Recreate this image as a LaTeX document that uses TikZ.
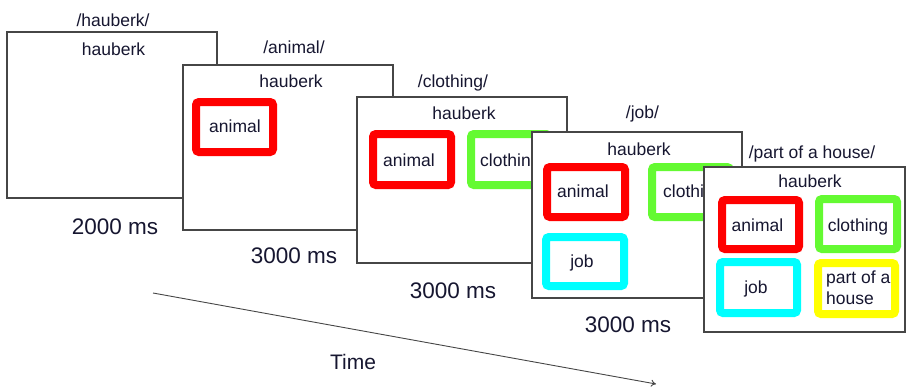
\documentclass[tikz,border=0pt]{standalone}
\usepackage{fontspec}
\setmainfont{Liberation Sans}
\usetikzlibrary{arrows.meta}
\definecolor{txt}{RGB}{22,22,48}
\definecolor{framegray}{RGB}{70,70,70}
\definecolor{cred}{RGB}{255,0,0}
\definecolor{cgreen}{RGB}{100,250,50}
\definecolor{ccyan}{RGB}{0,255,255}
\definecolor{cyellow}{RGB}{255,255,0}
\tikzset{
  frame/.style={draw=framegray,line width=1.4pt,fill=white,anchor=north west,inner sep=0pt,outer sep=0pt,minimum width=210pt,minimum height=166pt},
  cbox/.style={draw=#1,line width=8pt,rounded corners=3pt,anchor=north west,inner sep=0pt,outer sep=0pt,minimum width=77pt,minimum height=50pt},
  lbl/.style={font=\fontsize{17.5}{20}\selectfont,text=txt,anchor=base,inner sep=0pt},
  lblw/.style={lbl,anchor=base west},
  ms/.style={font=\fontsize{22.5}{26}\selectfont,text=txt,anchor=base,inner sep=0pt},
  timelbl/.style={font=\fontsize{21}{24}\selectfont,text=txt,anchor=base,inner sep=0pt}
}
\begin{document}
\begin{tikzpicture}[x=1pt,y=-1pt]
\useasboundingbox (0,0) rectangle (908,386);
% frame 1
\node[lbl] (h1) at (113,26) {/hauberk/};
\node[frame] (f1) at (7,32) {};
\node[lbl] (w1) at (113.5,55) {hauberk};
\node[ms] (t1) at (115,234) {2000 ms};
% frame 2
\node[lbl] (h2) at (294,53) {/animal/};
\node[frame,minimum height=165pt] (f2) at (183,65) {};
\node[lbl] (w2) at (291,87) {hauberk};
\node[cbox=cred] (b2a) at (196,102) {};
\node[lbl] (l2a) at (235,132) {animal};
\node[ms] (t2) at (294,263) {3000 ms};
% frame 3
\node[lbl] (h3) at (453,87) {/clothing/};
\node[frame] (f3) at (357,97) {};
\node[lbl] (w3) at (464,119) {hauberk};
\node[cbox=cred,minimum width=78pt,minimum height=51pt] (b3a) at (373,134) {};
\node[lbl] (l3a) at (409,166) {animal};
\node[cbox=cgreen,minimum width=78pt,minimum height=51pt] (b3c) at (471,134) {};
\node[lblw] (l3c) at (480,166) {clothing};
\node[ms] (t3) at (453,298) {3000 ms};
% frame 4
\node[lbl] (h4) at (642.5,118) {/job/};
\node[frame] (f4) at (532,132) {};
\node[lbl] (w4) at (639,155) {hauberk};
\node[cbox=cred,minimum width=78pt] (b4a) at (547,167) {};
\node[lbl] (l4a) at (583,197) {animal};
\node[cbox=cgreen,minimum width=78pt] (b4c) at (652,167) {};
\node[lblw] (l4c) at (663,197) {clothing};
\node[cbox=ccyan,minimum width=78pt,minimum height=49pt] (b4j) at (546,237) {};
\node[lbl] (l4j) at (582,267) {job};
\node[ms] (t4) at (628,332) {3000 ms};
% frame 5
\node[lbl] (h5) at (812,158) {/part of a house/};
\node[frame,minimum width=201pt,minimum height=165pt] (f5) at (704,167) {};
\node[lbl] (w5) at (810,187) {hauberk};
\node[cbox=cred,minimum height=49pt] (b5a) at (722,200) {};
\node[lbl] (l5a) at (757.5,231) {animal};
\node[cbox=cgreen,minimum width=78pt] (b5c) at (819,199) {};
\node[lbl] (l5c) at (858,231) {clothing};
\node[cbox=ccyan,minimum height=51pt] (b5j) at (720,262) {};
\node[lbl] (l5j) at (756,293) {job};
\node[cbox=cyellow,minimum height=51pt] (b5h) at (818,263) {};
\node[lblw] (l5h1) at (826,283) {part of a};
\node[lblw] (l5h2) at (826,304) {house};
% time arrow
\coordinate (ts) at (153,293);
\coordinate (te) at (656,384);
\draw[line width=0.9pt,draw=framegray,-{To[length=5pt,width=7pt]}] (ts) -- (te);
\node[timelbl] (tm) at (353,369) {Time};
\end{tikzpicture}
\end{document}
